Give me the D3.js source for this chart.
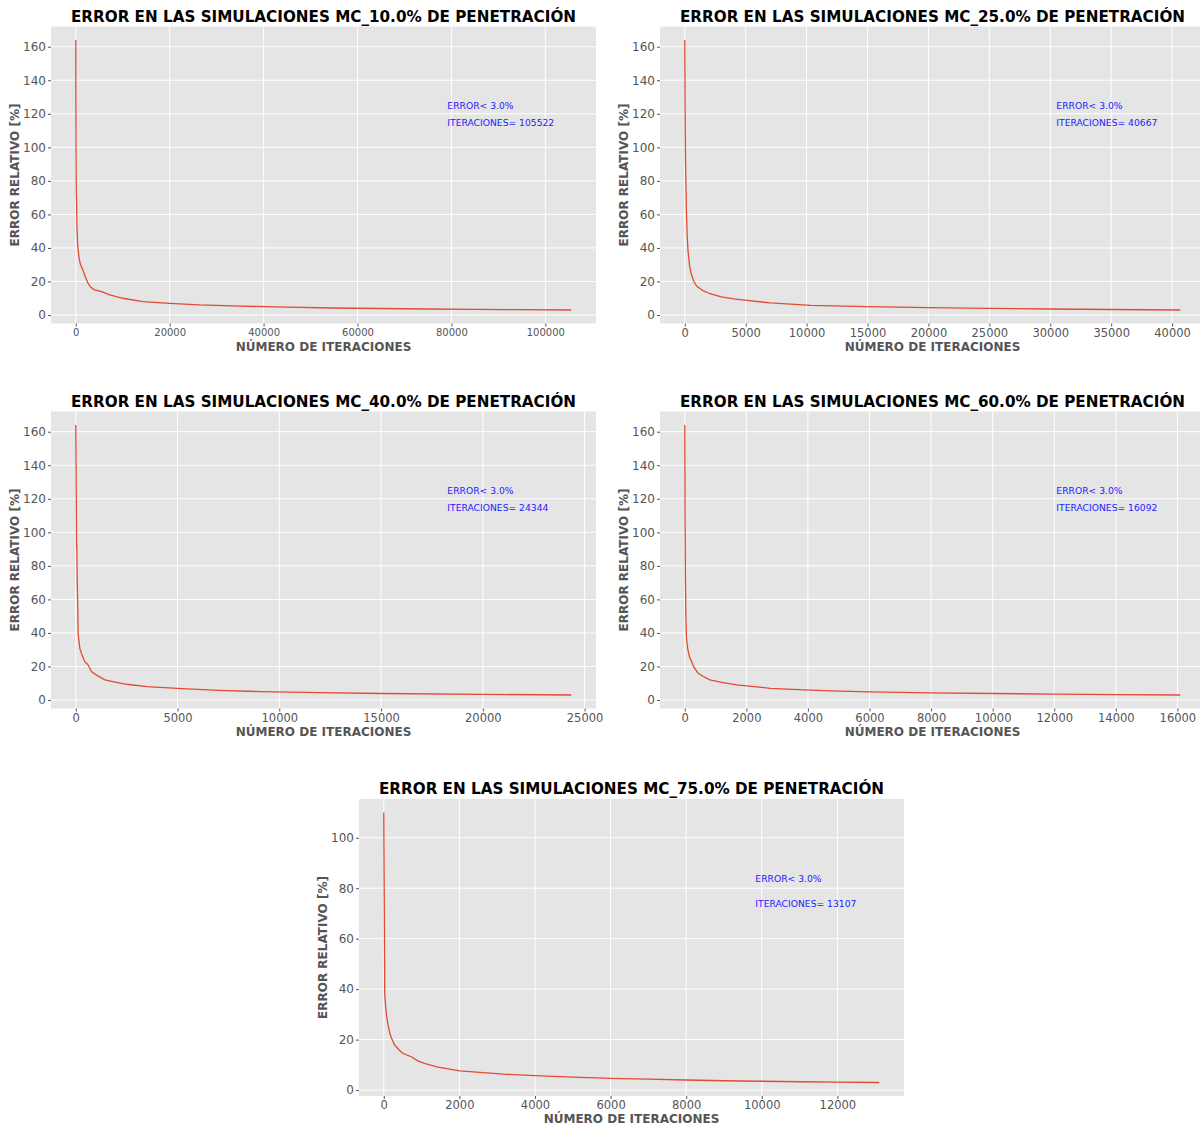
<!DOCTYPE html>
<html lang="es">
<head>
  <meta charset="UTF-8" />
  <title>Error en las simulaciones MC</title>
  <script src="https://d3js.org/d3.v7.min.js"></script>
  <style>
    body {
      margin: 0;
      background: #fff;
      font-family: "DejaVu Sans", sans-serif;
    }
    #chart svg { display: block; }
    .title { font-weight: bold; font-size: 15.2px; fill: #000; }
    .axis-label { font-weight: bold; font-size: 12px; fill: #555; }
    .tick text { fill: #555; }
    .note { font-size: 9.2px; fill: #2323ff; }
  </style>
</head>
<body>
  <div id="chart"></div>

  <script>
    // ---------- DATA ----------
    const pen10 = [[0,164],[20,130],[50,100],[100,76],[150,70],[250,53],[400,42],[700,34],[1000,30],
      [1500,27],[2000,23],[2600,19],[3200,16.5],[4000,15],[5500,14],[7250,12],[10000,10],[14300,8],
      [20000,7],[26400,6],[35000,5.3],[45000,4.7],[55000,4.2],[65000,3.9],[75000,3.6],[85000,3.4],
      [95000,3.2],[105522,3.0]];
    const pen25 = [[0,164],[30,120],[60,93],[100,75],[140,60],[200,47],[270,38],[400,29],[550,24],
      [750,20],[970,17.3],[1500,14.5],[2070,12.7],[3000,10.8],[4000,9.6],[5100,8.8],[7000,7.2],
      [10350,5.8],[15000,5],[20000,4.4],[25000,4.0],[30000,3.6],[35000,3.3],[40667,3.0]];
    const pen40 = [[0,164],[20,130],[40,91],[50,93],[70,71],[100,55],[115,40],[150,36],[200,30.8],
      [300,27],[440,23],[600,21],[770,17],[1000,15],[1430,12],[2000,10.5],[2500,9.4],[3500,8],
      [5000,7],[7000,5.8],[9070,5],[12000,4.4],[15000,3.9],[20000,3.4],[24344,3.0]];
    const pen60 = [[0,164],[5,140],[10,106],[15,100],[20,75],[25,68],[35,50],[55,37],[100,30],
      [150,26],[220,23],[300,19.5],[435,16],[600,14],[816,12],[1200,10.5],[1690,9],[2780,7],
      [3500,6.3],[4730,5.4],[6000,4.9],[8000,4.3],[10000,3.9],[12000,3.5],[14000,3.2],[16092,3.0]];
    const pen75 = [[0,110],[5,95],[10,82],[15,70],[20,55],[26,38],[50,33],[70,30],[110,26],
      [160,22.4],[220,20],[290,17.8],[400,16],[510,14.5],[730,13.2],[910,11.5],[1100,10.5],
      [1400,9.2],[2010,7.6],[3160,6.3],[4000,5.7],[5000,5.1],[6000,4.6],[7000,4.3],[8000,4.0],
      [9000,3.7],[10000,3.5],[11000,3.3],[12000,3.15],[13107,3.0]];

    const penetrations = ["10.0", "25.0", "40.0", "60.0", "75.0"];
    const iterations = [105522, 40667, 24344, 16092, 13107];
    const series = [pen10, pen25, pen40, pen60, pen75];
    const xTickSets = [
      [0, 20000, 40000, 60000, 80000, 100000],
      [0, 5000, 10000, 15000, 20000, 25000, 30000, 35000, 40000],
      [0, 5000, 10000, 15000, 20000, 25000],
      [0, 2000, 4000, 6000, 8000, 10000, 12000, 14000, 16000],
      [0, 2000, 4000, 6000, 8000, 10000, 12000]
    ];
    const yTickSets = [
      [0, 20, 40, 60, 80, 100, 120, 140, 160],
      [0, 20, 40, 60, 80, 100, 120, 140, 160],
      [0, 20, 40, 60, 80, 100, 120, 140, 160],
      [0, 20, 40, 60, 80, 100, 120, 140, 160],
      [0, 20, 40, 60, 80, 100]
    ];
    const errorLimit = "3.0";

    // ---------- LAYOUT ----------
    const W = 1200, H = 1125;
    const pw = 545, ph = 297;
    const origins = [[51, 26.5], [660, 26.5], [51, 411.5], [660, 411.5], [359, 799]];
    const xTickFont = [10, 11.5, 11.5, 11.5, 11.5];

    const svg = d3.select("#chart").append("svg")
      .attr("width", W).attr("height", H);

    series.forEach((data, i) => {
      const [ox, oy] = origins[i];
      const g = svg.append("g").attr("transform", `translate(${ox},${oy})`);

      // matplotlib-like 5% margins
      const xMax = d3.max(data, d => d[0]);
      const [yMin, yMax] = d3.extent(data, d => d[1]);
      const yPad = (yMax - yMin) * 0.05;

      const x = d3.scaleLinear().domain([-0.05 * xMax, 1.05 * xMax]).range([0, pw]);
      const y = d3.scaleLinear().domain([yMin - yPad, yMax + yPad]).range([ph, 0]);

      g.append("rect").attr("width", pw).attr("height", ph).attr("fill", "#e5e5e5");

      // grid
      g.append("g").selectAll("line").data(xTickSets[i]).join("line")
        .attr("x1", d => x(d)).attr("x2", d => x(d))
        .attr("y1", 0).attr("y2", ph)
        .attr("stroke", "#fff").attr("stroke-width", 1);
      g.append("g").selectAll("line").data(yTickSets[i]).join("line")
        .attr("x1", 0).attr("x2", pw)
        .attr("y1", d => y(d)).attr("y2", d => y(d))
        .attr("stroke", "#fff").attr("stroke-width", 1);

      // axes
      const xAxis = g.append("g").attr("transform", `translate(0,${ph})`)
        .call(d3.axisBottom(x).tickValues(xTickSets[i]).tickFormat(d3.format("d"))
          .tickSize(3).tickPadding(2));
      xAxis.select(".domain").remove();
      xAxis.selectAll(".tick line").attr("stroke", "#555");
      xAxis.selectAll(".tick text")
        .attr("font-family", "DejaVu Sans").attr("font-size", xTickFont[i]);

      const yAxis = g.append("g")
        .call(d3.axisLeft(y).tickValues(yTickSets[i]).tickFormat(d3.format("d"))
          .tickSize(3).tickPadding(2));
      yAxis.select(".domain").remove();
      yAxis.selectAll(".tick line").attr("stroke", "#555");
      yAxis.selectAll(".tick text")
        .attr("font-family", "DejaVu Sans").attr("font-size", 12);

      // clip + line
      const clipId = "clip" + i;
      g.append("clipPath").attr("id", clipId)
        .append("rect").attr("width", pw).attr("height", ph);

      const line = d3.line().x(d => x(d[0])).y(d => y(d[1]));
      g.append("path").datum(data)
        .attr("clip-path", `url(#${clipId})`)
        .attr("d", line)
        .attr("fill", "none")
        .attr("stroke", "#e24a33")
        .attr("stroke-width", 1.3);

      // annotation
      g.append("text").attr("class", "note")
        .attr("x", x(0.75 * iterations[i])).attr("y", y(0.75 * yMax))
        .text(`ERROR< ${errorLimit}%`);
      g.append("text").attr("class", "note")
        .attr("x", x(0.75 * iterations[i])).attr("y", y(0.75 * yMax - 10))
        .text(`ITERACIONES= ${iterations[i]}`);

      // titles and labels
      g.append("text").attr("class", "title")
        .attr("x", pw / 2).attr("y", -5)
        .attr("text-anchor", "middle")
        .text(`ERROR EN LAS SIMULACIONES MC_${penetrations[i]}% DE PENETRACIÓN`);

      g.append("text").attr("class", "axis-label")
        .attr("x", pw / 2).attr("y", ph + 27)
        .attr("text-anchor", "middle")
        .text("NÚMERO DE ITERACIONES");

      g.append("text").attr("class", "axis-label")
        .attr("transform", `translate(-32,${ph / 2}) rotate(-90)`)
        .attr("text-anchor", "middle")
        .text("ERROR RELATIVO [%]");
    });
  </script>
</body>
</html>
